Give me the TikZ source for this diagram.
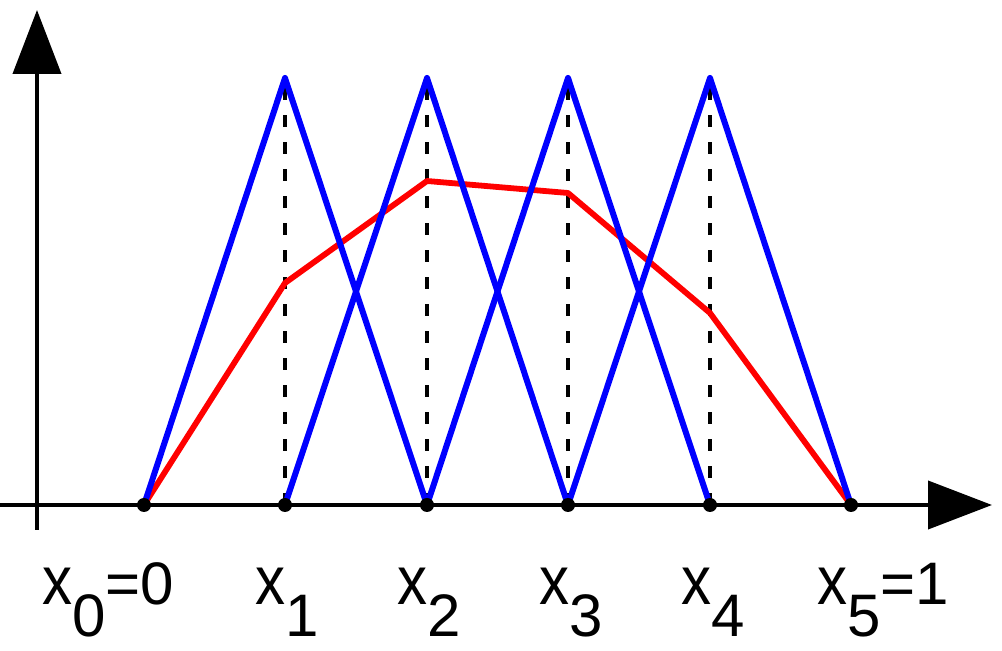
\documentclass[tikz,border=0pt]{standalone}
\usepackage{fontspec}
\setmainfont{Liberation Sans}
\usetikzlibrary{arrows.meta}
\usetikzlibrary{calc}
\tikzset{
  % axes with large filled heads
  axis/.style={line width=2pt,-{Triangle[length=32pt,width=24pt]}},
  % hat (basis) functions and the piecewise linear interpolant
  hat/.style={blue,line width=3pt,line join=round},
  interp/.style={red,line width=2.9pt,line join=round},
  guide/.style={line width=1.6pt,dash pattern=on 6pt off 7.5pt},
  knot/.style={circle,fill,inner sep=0pt,minimum size=7pt},
  klabel/.style={font=\fontsize{30}{33}\selectfont,anchor=base west,inner sep=0pt},
}
\newcommand{\xv}{\scalebox{1}[1.15]{x}}
\newcommand{\lowsub}[1]{\raisebox{-16pt}{#1}}

\begin{document}
\begin{tikzpicture}[x=0.5pt,y=-0.5pt]
  \useasboundingbox (0,0) rectangle (1002,651);

  % knots on the axis
  \foreach \i/\px in {0/144,1/285,2/427,3/568,4/710,5/851}
    \coordinate (x\i) at (\px,505);
  % tops of the hats
  \foreach \i in {1,...,4}
    \coordinate (p\i) at ($(x\i)+(0,-427)$);
  % values of the interpolant
  \coordinate (r1) at (285,283);
  \coordinate (r2) at (427,181);
  \coordinate (r3) at (568,193);
  \coordinate (r4) at (710,313);

  \coordinate (xs) at (0,505);
  \coordinate (xe) at (992,505);
  \coordinate (ys) at (37,530);
  \coordinate (ye) at (37,10);

  \draw[axis] (xs) -- (xe);
  \draw[axis] (ys) -- (ye);

  \foreach \i in {1,...,4}
    \draw[guide] (x\i) -- (p\i);

  \draw[interp] (x0) -- (r1) -- (r2) -- (r3) -- (r4) -- (x5);

  \draw[hat] (x0) -- (p1) -- (x2);
  \draw[hat] (x1) -- (p2) -- (x3);
  \draw[hat] (x2) -- (p3) -- (x4);
  \draw[hat] (x3) -- (p4) -- (x5);

  \foreach \i in {0,...,5}
    \node[knot] (k\i) at (x\i) {};

  \node[klabel] (l0) at (42,605) {\xv\lowsub{0}=0};
  \node[klabel] (l1) at (255,605) {\xv\lowsub{1}};
  \node[klabel] (l2) at (397,605) {\xv\lowsub{2}};
  \node[klabel] (l3) at (539,605) {\xv\lowsub{3}};
  \node[klabel] (l4) at (681,605) {\xv\lowsub{4}};
  \node[klabel] (l5) at (817,605) {\xv\lowsub{5}=1};
\end{tikzpicture}
\end{document}
